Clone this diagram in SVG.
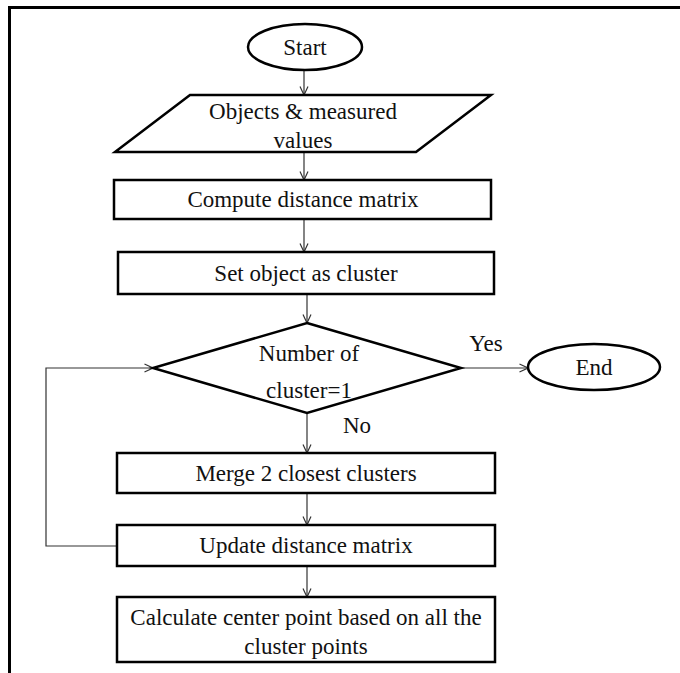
<svg xmlns="http://www.w3.org/2000/svg" width="680" height="673" viewBox="0 0 680 673">
<defs>
<style>
.sh{fill:#fff;stroke:#000;stroke-width:2.5}
.ln{fill:none;stroke:#333;stroke-width:1.2}
.t{font-family:"Liberation Serif","Times New Roman",serif;font-size:23px;fill:#111;text-anchor:middle;dominant-baseline:central}
</style>
<marker id="ah" viewBox="0 0 10 10" refX="9.5" refY="5" markerWidth="10" markerHeight="10" markerUnits="userSpaceOnUse" orient="auto">
<path d="M1,1 L9.5,5 L1,9" fill="none" stroke="#333" stroke-width="1.2"/>
</marker>
</defs>
<rect width="680" height="673" fill="#fff"/>
<rect x="9.5" y="7.5" width="700" height="700" fill="none" stroke="#000" stroke-width="3"/>
<g id="connectors">
<line class="ln" x1="304" y1="70" x2="304" y2="95" marker-end="url(#ah)"/>
<line class="ln" x1="304" y1="152" x2="304" y2="180" marker-end="url(#ah)"/>
<line class="ln" x1="304" y1="219" x2="304" y2="252" marker-end="url(#ah)"/>
<line class="ln" x1="307" y1="294" x2="307" y2="323" marker-end="url(#ah)"/>
<line class="ln" x1="461" y1="368" x2="528" y2="368" marker-end="url(#ah)"/>
<line class="ln" x1="307" y1="413" x2="307" y2="453" marker-end="url(#ah)"/>
<line class="ln" x1="307" y1="493" x2="307" y2="525" marker-end="url(#ah)"/>
<line class="ln" x1="307" y1="566" x2="307" y2="597" marker-end="url(#ah)"/>
<polyline class="ln" points="117,546 46,546 46,368 153,368" marker-end="url(#ah)"/>
<text class="t" x="486" y="343">Yes</text>
<text class="t" x="357" y="425">No</text>
</g>
<g id="start">
<ellipse class="sh" cx="305" cy="47" rx="57" ry="23"/>
<text class="t" x="305" y="47">Start</text>
</g>
<g id="input">
<polygon class="sh" points="190,95 491,95 416,152 115,152"/>
<text class="t" x="303" y="111">Objects &amp; measured</text>
<text class="t" x="303" y="140">values</text>
</g>
<g id="compute">
<rect class="sh" x="114" y="180" width="377" height="39"/>
<text class="t" x="303" y="199.5">Compute distance matrix</text>
</g>
<g id="setcluster">
<rect class="sh" x="118" y="252" width="376" height="42"/>
<text class="t" x="306" y="273">Set object as cluster</text>
</g>
<g id="decision">
<polygon class="sh" points="307,323 461,368 307,413 153,368"/>
<text class="t" x="309" y="353">Number of</text>
<text class="t" x="309" y="390">cluster=1</text>
</g>
<g id="end">
<ellipse class="sh" cx="594" cy="367" rx="66" ry="23"/>
<text class="t" x="594" y="367">End</text>
</g>
<g id="merge">
<rect class="sh" x="117" y="453" width="378" height="40"/>
<text class="t" x="306" y="473">Merge 2 closest clusters</text>
</g>
<g id="update">
<rect class="sh" x="117" y="525" width="378" height="41"/>
<text class="t" x="306" y="545.5">Update distance matrix</text>
</g>
<g id="calc">
<rect class="sh" x="117" y="597" width="378" height="65"/>
<text class="t" x="306" y="617">Calculate  center point based on all the</text>
<text class="t" x="306" y="646">cluster points</text>
</g>
</svg>
